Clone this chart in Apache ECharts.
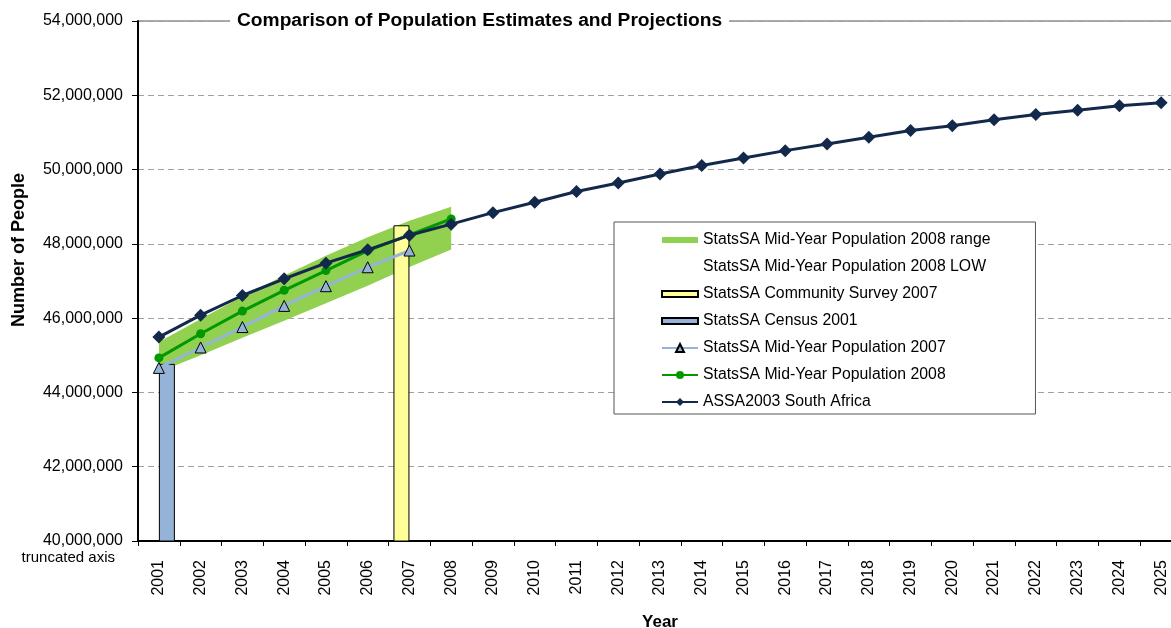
<!DOCTYPE html>
<html>
<head>
<meta charset="utf-8">
<title>Comparison of Population Estimates and Projections</title>
<script src="https://cdn.jsdelivr.net/npm/echarts@6/dist/echarts.min.js"></script>
<style>
  html, body { margin: 0; padding: 0; background: #fff; }
  #chart { width: 1171px; height: 628px; }
</style>
</head>
<body>
<div id="chart"></div>
<script>
// Years on the category axis
const years = ['2001','2002','2003','2004','2005','2006','2007','2008','2009','2010','2011','2012',
  '2013','2014','2015','2016','2017','2018','2019','2020','2021','2022','2023','2024','2025'];

// ASSA2003 projection for South Africa, 2001-2025
const assa2003 = [45490000, 46080000, 46610000, 47060000, 47480000, 47840000, 48230000, 48530000,
  48840000, 49120000, 49410000, 49640000, 49880000, 50110000, 50310000, 50510000, 50690000,
  50870000, 51050000, 51180000, 51340000, 51480000, 51600000, 51720000, 51800000];

// StatsSA mid-year estimates
const mye2008 = [44930000, 45580000, 46190000, 46750000, 47280000, 47820000, 48240000, 48670000];
const mye2007 = [44660000, 45210000, 45760000, 46330000, 46860000, 47370000, 47820000];

// StatsSA 2008 mid-year range (low / high), 2001-2008
const mye2008Low  = [44550000, 45000000, 45470000, 45930000, 46400000, 46870000, 47380000, 47850000];
const mye2008High = [45360000, 45980000, 46580000, 47150000, 47680000, 48180000, 48620000, 49000000];

// Single-year counts
const census2001 = { year: '2001', value: 44770000 };
const survey2007 = { year: '2007', value: 48500000 };

// Y axis range
const yMin = 40000000, yMax = 54000000, yStep = 2000000;

const FONT = "'Liberation Sans', Arial, sans-serif";
const fmt = v => Math.round(v).toLocaleString('en-US');

const rangeSpan = mye2008Low.map((lo, i) => mye2008High[i] - lo);
const censusData = years.map(y => (y === census2001.year ? census2001.value : null));
const surveyData = years.map(y => (y === survey2007.year ? survey2007.value : null));

const NAMES = {
  range: 'StatsSA Mid-Year Population 2008 range',
  low: 'StatsSA Mid-Year Population 2008 LOW',
  survey: 'StatsSA Community Survey 2007',
  census: 'StatsSA Census 2001',
  m07: 'StatsSA Mid-Year Population 2007',
  m08: 'StatsSA Mid-Year Population 2008',
  assa: 'ASSA2003 South Africa'
};

const barIcon = 'path://M0,2L36,2L36,8L0,8Z';

const chart = echarts.init(document.getElementById('chart'), null, { renderer: 'canvas' });

chart.setOption({
  animation: false,
  backgroundColor: '#fff',
  textStyle: { fontFamily: FONT },
  title: {
    text: 'Comparison of Population Estimates and Projections',
    left: 230,
    top: 10,
    padding: [1, 7, 1, 7],
    backgroundColor: '#fff',
    textStyle: { fontFamily: FONT, fontSize: 19.2, fontWeight: 'bold', color: '#000' }
  },
  grid: {
    left: 138,
    top: 21,
    right: -11,
    bottom: 87,
    outerBoundsMode: 'none',
    containLabel: false,
    show: true,
    borderColor: '#555',
    borderWidth: 1,
    backgroundColor: 'transparent'
  },
  legend: {
    orient: 'vertical',
    left: 614,
    top: 222,
    padding: [10, 45, 4, 47],
    itemWidth: 36,
    itemHeight: 10,
    itemGap: 11,
    selectedMode: false,
    backgroundColor: '#fff',
    borderColor: '#555',
    borderWidth: 1,
    textStyle: { fontFamily: FONT, fontSize: 15.8, color: '#000', lineHeight: 16 },
    data: [
      { name: NAMES.range, icon: barIcon, itemStyle: { color: '#92D050', borderWidth: 0 } },
      { name: NAMES.low, icon: barIcon, itemStyle: { opacity: 0 } },
      { name: NAMES.survey, icon: barIcon },
      { name: NAMES.census, icon: barIcon },
      { name: NAMES.m07 },
      { name: NAMES.m08 },
      { name: NAMES.assa }
    ]
  },
  xAxis: {
    type: 'category',
    data: years,
    boundaryGap: true,
    name: 'Year',
    nameLocation: 'middle',
    nameGap: 73,
    nameTextStyle: { fontFamily: FONT, fontSize: 17, fontWeight: 'bold', color: '#000' },
    axisLine: { lineStyle: { color: '#000', width: 2 } },
    axisTick: { show: true, length: 5, lineStyle: { color: '#000', width: 1 } },
    axisLabel: { rotate: 90, margin: 19, fontFamily: FONT, fontSize: 16, color: '#000', interval: 0 },
    splitLine: { show: false }
  },
  yAxis: {
    type: 'value',
    min: yMin,
    max: yMax,
    interval: yStep,
    axisLine: { show: true, lineStyle: { color: '#000', width: 2 } },
    axisTick: { show: true, length: 6, lineStyle: { color: '#000', width: 1 } },
    axisLabel: { margin: 15, fontFamily: FONT, fontSize: 16, color: '#000', formatter: v => fmt(v) },
    splitLine: { show: true, lineStyle: { color: '#A0A0A0', width: 1, type: [6, 4] } }
  },
  graphic: [
    {
      type: 'text',
      x: 19,
      y: 250,
      rotation: Math.PI / 2,
      style: {
        text: 'Number of People',
        fontFamily: FONT, fontSize: 18, fontWeight: 'bold', fill: '#000',
        textAlign: 'center', textVerticalAlign: 'middle'
      }
    },
    {
      type: 'text',
      x: 115,
      y: 558,
      style: {
        text: 'truncated axis',
        fontFamily: FONT, fontSize: 15, fill: '#000',
        textAlign: 'right', textVerticalAlign: 'middle'
      }
    }
  ],
  series: [
    {
      name: NAMES.low,
      type: 'line',
      stack: 'band',
      data: mye2008Low,
      symbol: 'none',
      lineStyle: { width: 0, opacity: 0 },
      itemStyle: { color: 'transparent' },
      z: 1
    },
    {
      name: NAMES.range,
      type: 'line',
      stack: 'band',
      data: rangeSpan,
      symbol: 'none',
      lineStyle: { width: 0, opacity: 0 },
      itemStyle: { color: '#92D050' },
      areaStyle: { color: '#92D050', opacity: 1 },
      z: 1
    },
    {
      name: NAMES.survey,
      type: 'bar',
      data: surveyData,
      barWidth: 16,
      barGap: '0%',
      itemStyle: { color: '#FFFF99', borderColor: '#000', borderWidth: 1 },
      z: 2
    },
    {
      name: NAMES.census,
      type: 'bar',
      data: censusData,
      barWidth: 16,
      barGap: '0%',
      itemStyle: { color: '#95B3D7', borderColor: '#000', borderWidth: 1 },
      z: 2
    },
    {
      name: NAMES.m07,
      type: 'line',
      data: mye2007,
      symbol: 'triangle',
      symbolSize: 11,
      lineStyle: { color: '#95B3D7', width: 3 },
      itemStyle: { color: '#95B3D7', borderColor: '#000', borderWidth: 1 },
      z: 3
    },
    {
      name: NAMES.m08,
      type: 'line',
      data: mye2008,
      symbol: 'circle',
      symbolSize: 9,
      lineStyle: { color: '#009A00', width: 3 },
      itemStyle: { color: '#009A00' },
      z: 4
    },
    {
      name: NAMES.assa,
      type: 'line',
      data: assa2003,
      symbol: 'diamond',
      symbolSize: 13,
      lineStyle: { color: '#13294B', width: 3 },
      itemStyle: { color: '#13294B' },
      z: 5
    }
  ]
});
</script>
</body>
</html>
